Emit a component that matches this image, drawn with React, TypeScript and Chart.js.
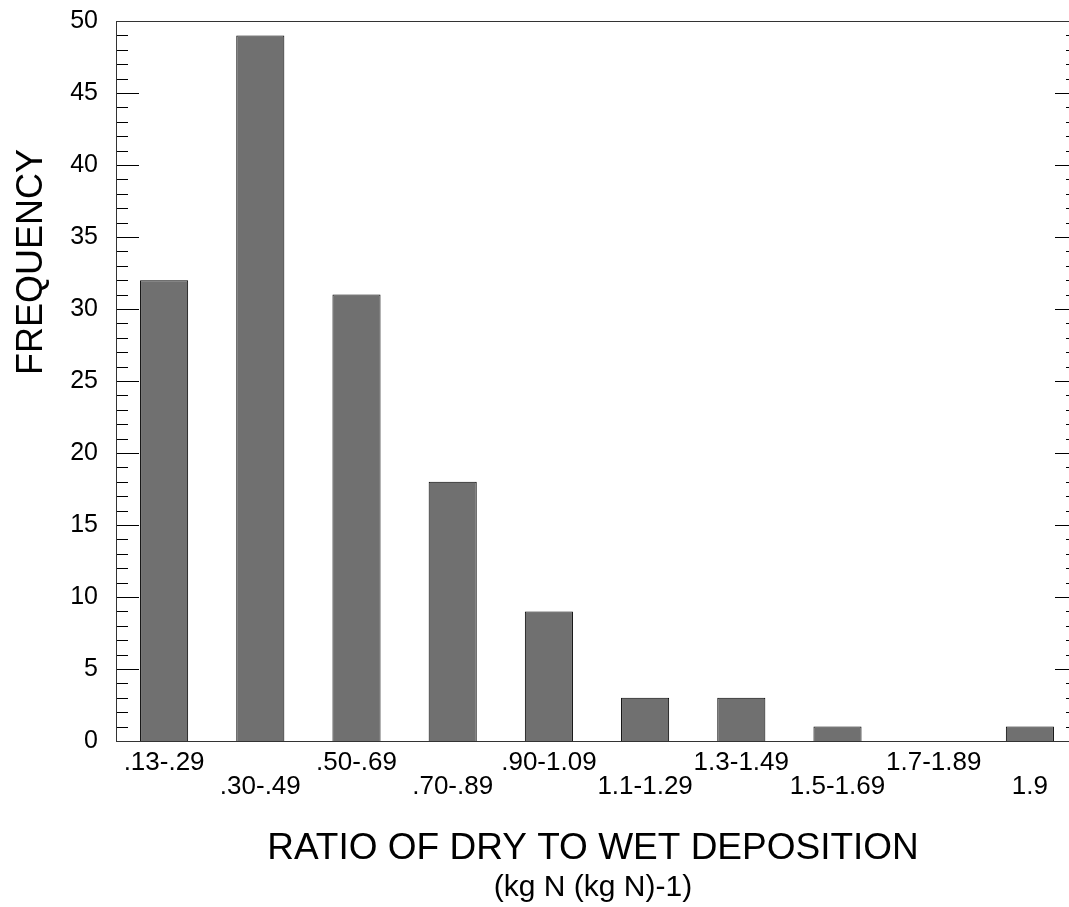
import React, { useEffect, useRef } from "react";
import { Chart, registerables } from "chart.js";

Chart.register(...registerables);

const categories = [".13-.29", ".30-.49", ".50-.69", ".70-.89", ".90-1.09", "1.1-1.29", "1.3-1.49", "1.5-1.69", "1.7-1.89", "1.9"];
const frequency = [32, 49, 31, 18, 9, 3, 3, 1, 0, 1];
const yTitle = "FREQUENCY";
const xTitle = "RATIO OF DRY TO WET DEPOSITION";
const xSubtitle = "(kg N (kg N)-1)";
const yMin = 0;
const yMax = 50;
const yMajorStep = 5;
const yMinorStep = 1;

const FONT = "'Liberation Sans', Arial, Helvetica, sans-serif";
const CANVAS_W = 1100;
const CANVAS_H = 907;

const framePlugin = {
  id: "frame",
  afterDraw(chart: any) {
    const { ctx, chartArea } = chart;
    const y = chart.scales.y;
    const { left, right, top, bottom } = chartArea;
    ctx.save();
    ctx.strokeStyle = "#000";
    ctx.lineWidth = 1;
    for (let v = yMin; v <= yMax; v += yMinorStep) {
      const py = Math.round(y.getPixelForValue(v)) + 0.5;
      const len = v % yMajorStep === 0 ? 23 : 12;
      ctx.beginPath();
      ctx.moveTo(left, py);
      ctx.lineTo(left + len, py);
      ctx.moveTo(right, py);
      ctx.lineTo(right - len, py);
      ctx.stroke();
    }
    ctx.strokeStyle = "#333";
    ctx.strokeRect(Math.round(left) + 0.5, Math.round(top) + 0.5, Math.round(right - left), Math.round(bottom - top));
    ctx.fillStyle = "#000";
    ctx.textAlign = "center";
    ctx.textBaseline = "alphabetic";
    ctx.save();
    ctx.translate(42, 262);
    ctx.rotate(-Math.PI / 2);
    ctx.font = `36px ${FONT}`;
    ctx.fillText(yTitle, 0, 0);
    ctx.restore();
    ctx.font = `37px ${FONT}`;
    ctx.fillText(xTitle, 593, 859);
    ctx.font = `30px ${FONT}`;
    ctx.fillText(xSubtitle, 593, 896);
    ctx.restore();
  },
};

export default function App() {
  const ref = useRef<HTMLCanvasElement | null>(null);
  useEffect(() => {
    if (!ref.current) return;
    const labels = categories.map((c, i) => (i % 2 === 0 ? [c, ""] : ["", c]));
    const chart = new Chart(ref.current, {
      type: "bar",
      data: {
        labels,
        datasets: [
          {
            data: frequency,
            backgroundColor: "#707070",
            borderColor: "#000",
            borderWidth: 1,
            barPercentage: 0.5,
            categoryPercentage: 1,
          },
        ],
      },
      options: {
        responsive: false,
        animation: false,
        devicePixelRatio: 1,
        layout: { padding: { left: 0, top: 21, right: CANVAS_W - 1078, bottom: 0 } },
        plugins: { legend: { display: false }, tooltip: { enabled: false }, title: { display: false } },
        scales: {
          x: {
            offset: true,
            grid: { display: false, drawTicks: false },
            border: { display: false },
            ticks: {
              autoSkip: false,
              maxRotation: 0,
              minRotation: 0,
              padding: 10,
              color: "#000",
              font: { family: FONT, size: 26, lineHeight: 0.93 },
            },
            afterFit: (s: any) => {
              s.height = CANVAS_H - 741;
              s.paddingLeft = 0;
              s.paddingRight = 0;
            },
          },
          y: {
            min: yMin,
            max: yMax,
            grid: { display: false, drawTicks: false },
            border: { display: false },
            ticks: {
              stepSize: yMajorStep,
              padding: 18,
              color: "#000",
              font: { family: FONT, size: 25 },
            },
            afterFit: (s: any) => {
              s.width = 116;
              s.paddingTop = 0;
              s.paddingBottom = 0;
            },
          },
        },
      },
      plugins: [framePlugin],
    });
    return () => chart.destroy();
  }, []);
  return (
    <div style={{ position: "fixed", left: 0, top: 0, width: 1069, height: 907, overflow: "hidden", background: "#fff" }}>
      <canvas ref={ref} width={CANVAS_W} height={CANVAS_H} style={{ display: "block", width: CANVAS_W, height: CANVAS_H }} />
    </div>
  );
}
